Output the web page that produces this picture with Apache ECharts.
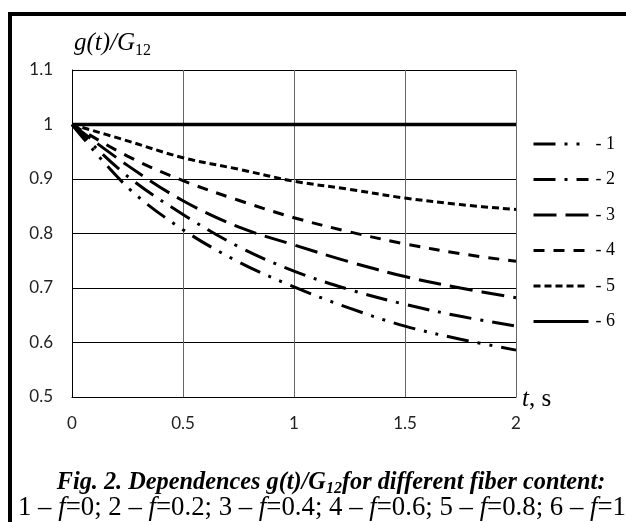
<!DOCTYPE html>
<html>
<head>
<meta charset="utf-8">
<script src="https://cdn.jsdelivr.net/npm/echarts@6/dist/echarts.min.js"></script>
<style>
html,body{margin:0;padding:0;background:#fff;}
#chart{width:626px;height:522px;}
</style>
</head>
<body>
<div id="chart"></div>
<script>
// time, s
var tValues = [0, 0.25, 0.5, 0.75, 1, 1.25, 1.5, 1.75, 2];
// g(t)/G12 for the six fiber contents
var curve1 = [1, 0.885, 0.807, 0.748, 0.702, 0.663, 0.630, 0.606, 0.586];
var curve2 = [1, 0.905, 0.835, 0.776, 0.731, 0.697, 0.670, 0.648, 0.630];
var curve3 = [1, 0.925, 0.860, 0.812, 0.779, 0.748, 0.721, 0.700, 0.682];
var curve4 = [1, 0.942, 0.897, 0.861, 0.829, 0.803, 0.781, 0.763, 0.749];
var curve5 = [1, 0.970, 0.939, 0.918, 0.896, 0.881, 0.865, 0.853, 0.844];
var curve6 = [1, 1, 1, 1, 1, 1, 1, 1, 1];
var seriesNames = ['1', '2', '3', '4', '5', '6'];
var xTicks = [0, 0.5, 1, 1.5, 2];
var yTicks = [0.5, 0.6, 0.7, 0.8, 0.9, 1, 1.1];

var curves = [curve1, curve2, curve3, curve4, curve5, curve6];
var dashes = [[22, 9, 3, 9, 3, 9], [22, 9, 3, 9], [23, 9], [11, 9], [7, 4], 'solid'];

function pairs(ys) {
  return tValues.map(function (t, i) { return [t, ys[i]]; });
}

var serif = 'Liberation Serif, Times New Roman, serif';
var sans = 'Lato, Noto Sans, sans-serif';

var series = curves.map(function (c, i) {
  return {
    name: seriesNames[i],
    type: 'line',
    data: pairs(c),
    smooth: 0.35,
    symbol: 'none',
    showSymbol: false,
    silent: true,
    itemStyle: { color: '#000', opacity: 0 },
    lineStyle: { color: '#000', width: i === 5 ? 3.5 : 3, type: dashes[i], cap: 'butt', opacity: 1 }
  };
});

var chart = echarts.init(document.getElementById('chart'), null, { renderer: 'canvas' });
chart.setOption({
  animation: false,
  backgroundColor: '#ffffff',
  grid: { left: 72, right: 110, top: 70, bottom: 125, containLabel: false },
  xAxis: {
    type: 'value',
    min: xTicks[0], max: xTicks[xTicks.length - 1], interval: 0.5,
    axisLine: { show: true, onZero: false, lineStyle: { color: '#000', width: 1 } },
    axisTick: { show: false },
    axisLabel: { margin: 18, color: '#222', fontSize: 17, fontFamily: sans },
    splitLine: { show: true, lineStyle: { color: '#666', width: 1 } }
  },
  yAxis: {
    type: 'value',
    min: yTicks[0], max: yTicks[yTicks.length - 1], interval: 0.1,
    axisLine: { show: true, lineStyle: { color: '#000', width: 1 } },
    axisTick: { show: false },
    axisLabel: { margin: 19, color: '#222', fontSize: 17, fontFamily: sans },
    splitLine: { show: true, lineStyle: { color: '#000', width: 1 } }
  },
  legend: {
    orient: 'vertical',
    left: 532, top: 135,
    padding: 0,
    itemWidth: 55, itemHeight: 14, itemGap: 17.5,
    formatter: '- {name}',
    itemStyle: { opacity: 0 },
    lineStyle: { width: 3, color: '#000' },
    textStyle: { fontFamily: serif, fontSize: 18, color: '#000', padding: [0, 0, 0, 2] },
    data: seriesNames
  },
  graphic: [
    { type: 'line', shape: { x1: 8, y1: 14, x2: 626, y2: 14 }, style: { stroke: '#000', lineWidth: 4 } },
    { type: 'line', shape: { x1: 10, y1: 12, x2: 10, y2: 522 }, style: { stroke: '#000', lineWidth: 4 } },
    {
      type: 'text', left: 74, top: 31,
      style: {
        text: '{a|g(t)/G}{b|12}',
        rich: {
          a: { fontFamily: serif, fontStyle: 'italic', fontSize: 25, lineHeight: 30, verticalAlign: 'middle', fill: '#000' },
          b: { fontFamily: serif, fontSize: 16, lineHeight: 30, verticalAlign: 'bottom', fill: '#000' }
        }
      }
    },
    {
      type: 'text', left: 522, top: 387,
      style: {
        text: '{i|t}{n|, s}',
        rich: {
          i: { fontFamily: serif, fontStyle: 'italic', fontSize: 25, fill: '#000' },
          n: { fontFamily: serif, fontSize: 25, fill: '#000' }
        }
      }
    },
    {
      type: 'text', x: 331, y: 469,
      style: {
        text: '{b|Fig. 2. Dependences g(t)/G}{s|12}{b|for different fiber content:}',
        align: 'center',
        rich: {
          b: { fontFamily: serif, fontStyle: 'italic', fontWeight: 'bold', fontSize: 24.3, lineHeight: 28, verticalAlign: 'middle', fill: '#000' },
          s: { fontFamily: serif, fontStyle: 'italic', fontWeight: 'bold', fontSize: 16, lineHeight: 28, verticalAlign: 'bottom', fill: '#000' }
        }
      }
    },
    {
      type: 'text', x: 322, y: 496,
      style: {
        text: '{n|1 – }{i|f}{n|=0; 2 – }{i|f}{n|=0.2; 3 – }{i|f}{n|=0.4; 4 – }{i|f}{n|=0.6; 5 – }{i|f}{n|=0.8; 6 – }{i|f}{n|=1}',
        align: 'center',
        rich: {
          n: { fontFamily: serif, fontSize: 26.8, lineHeight: 24, fill: '#000' },
          i: { fontFamily: serif, fontStyle: 'italic', fontSize: 26.8, lineHeight: 24, fill: '#000' }
        }
      }
    }
  ],
  series: series
});
</script>
</body>
</html>
